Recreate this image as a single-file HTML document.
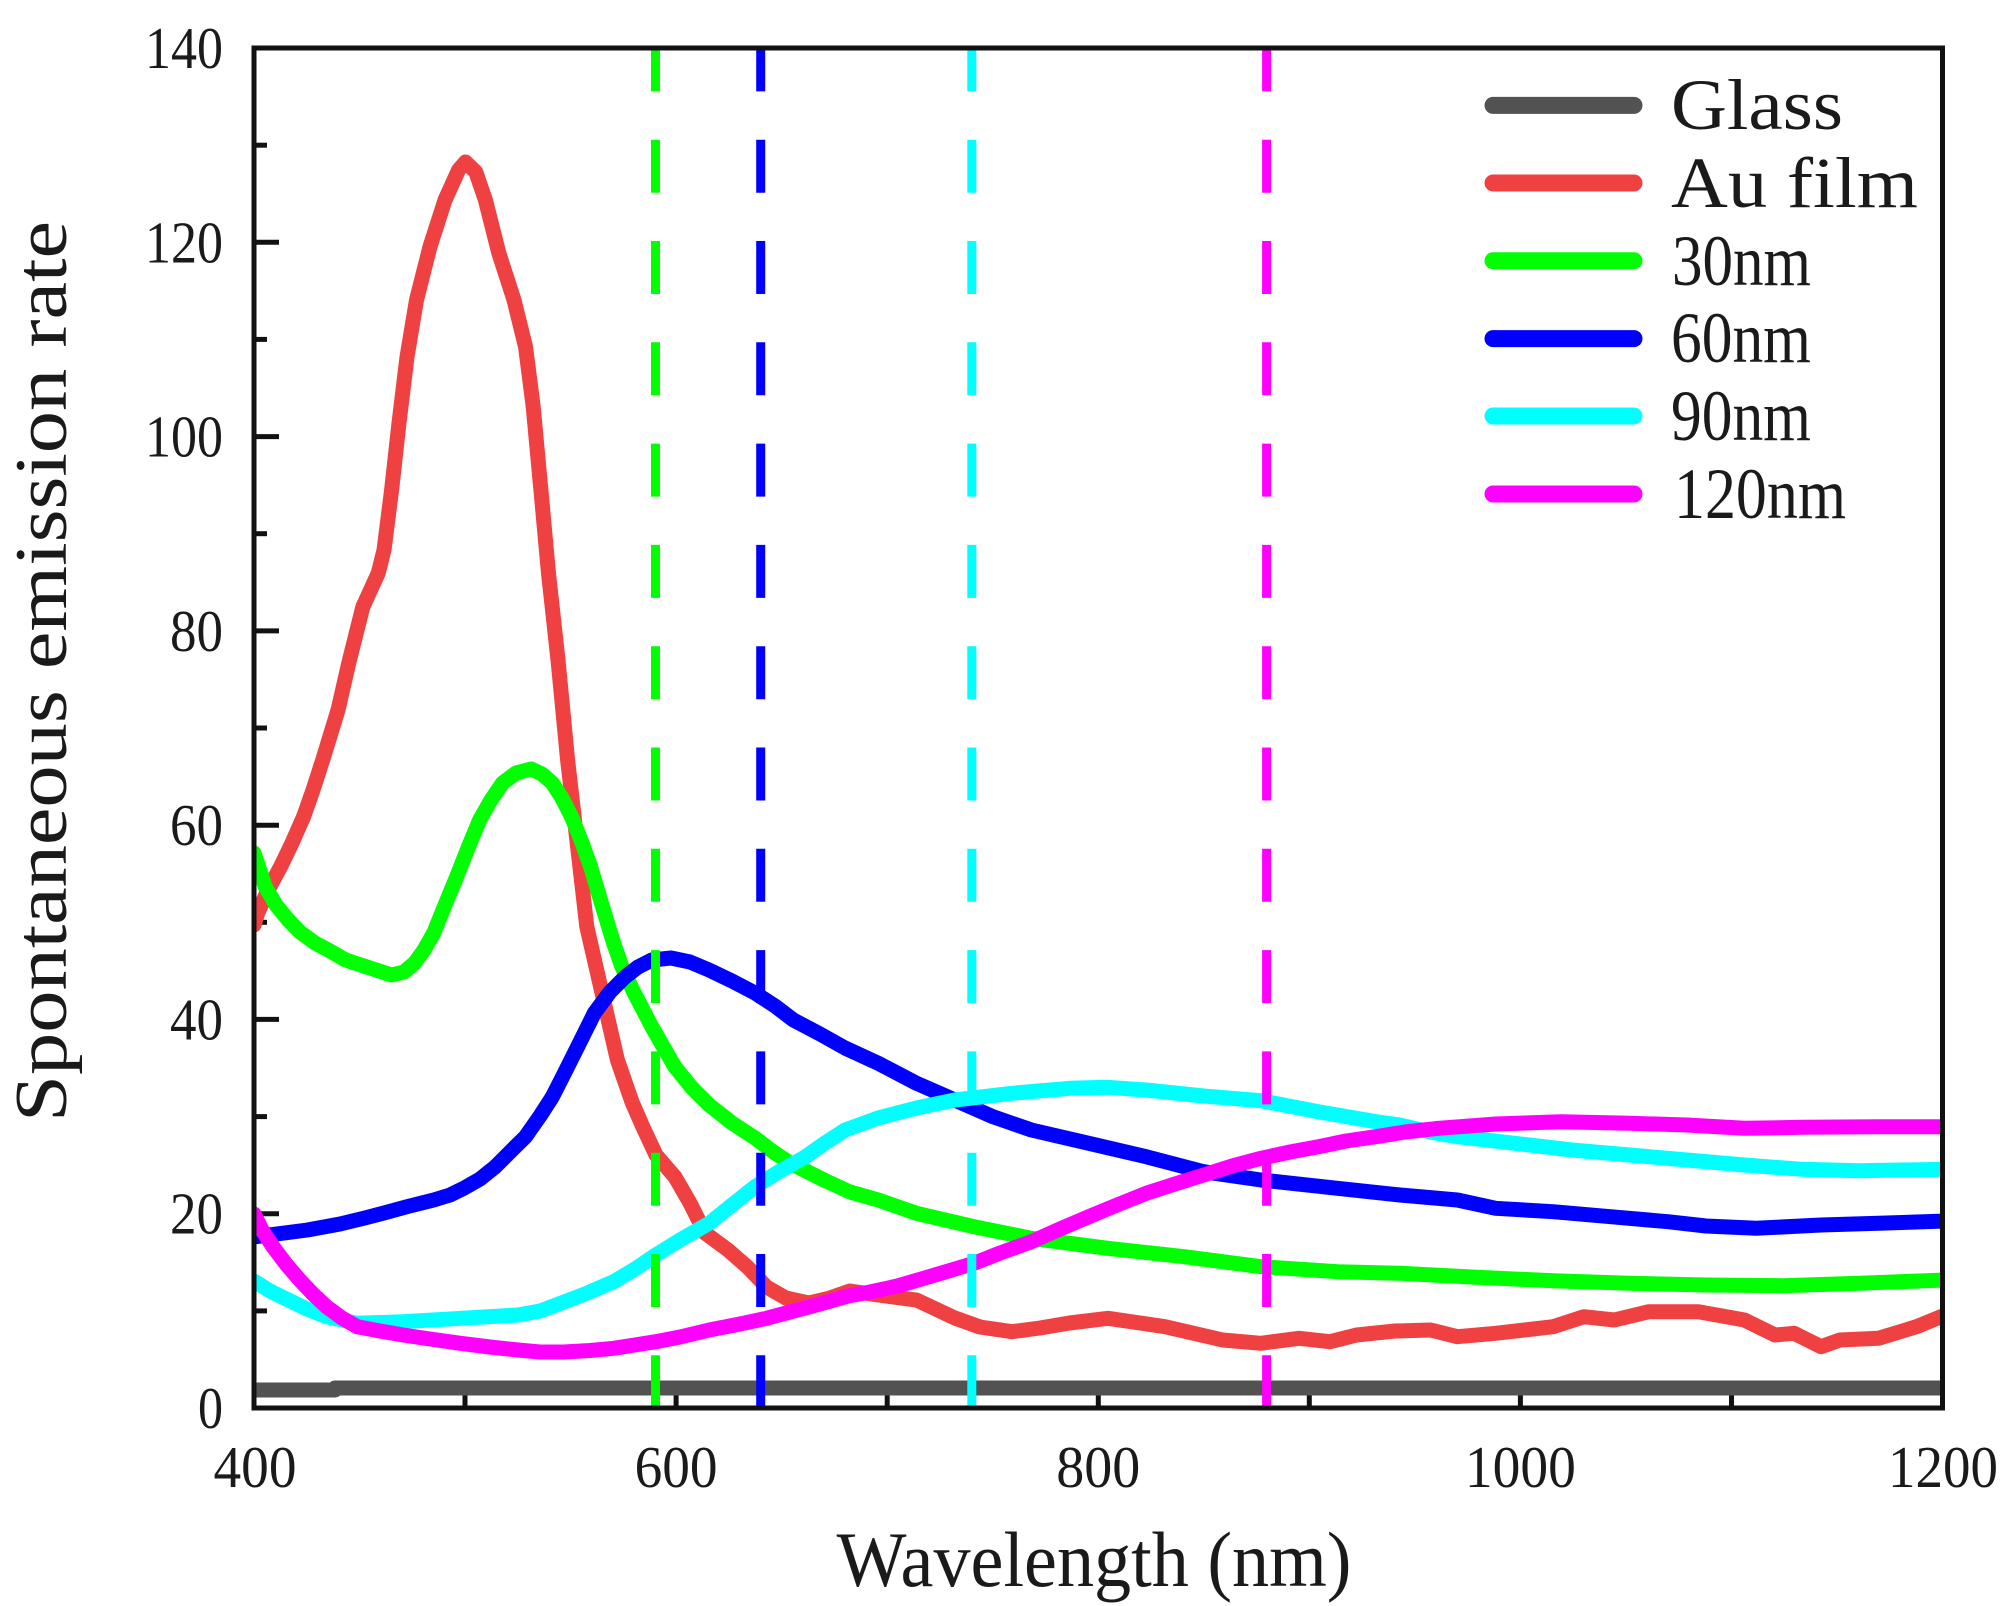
<!DOCTYPE html>
<html>
<head>
<meta charset="utf-8">
<style>
html,body{margin:0;padding:0;background:#fff;}
svg{display:block;}
text{font-family:"Liberation Serif","Noto Serif CJK SC",serif;fill:#1a1a1a;}
</style>
</head>
<body>
<svg width="2015" height="1606" viewBox="0 0 2015 1606" xmlns="http://www.w3.org/2000/svg">
<rect x="0" y="0" width="2015" height="1606" fill="#fff"/>
<defs>
<clipPath id="pc"><rect x="254" y="48" width="1688.5" height="1360"/></clipPath>
</defs>

<!-- ticks (under curves) -->
<g stroke="#111" stroke-width="5">
<!-- left major -->
<line x1="254" y1="1408" x2="279" y2="1408"/>
<line x1="254" y1="1213.7" x2="279" y2="1213.7"/>
<line x1="254" y1="1019.4" x2="279" y2="1019.4"/>
<line x1="254" y1="825.2" x2="279" y2="825.2"/>
<line x1="254" y1="630.9" x2="279" y2="630.9"/>
<line x1="254" y1="436.6" x2="279" y2="436.6"/>
<line x1="254" y1="242.3" x2="279" y2="242.3"/>
<!-- left minor -->
<line x1="254" y1="1310.9" x2="267" y2="1310.9"/>
<line x1="254" y1="1116.6" x2="267" y2="1116.6"/>
<line x1="254" y1="922.3" x2="267" y2="922.3"/>
<line x1="254" y1="728" x2="267" y2="728"/>
<line x1="254" y1="533.7" x2="267" y2="533.7"/>
<line x1="254" y1="339.4" x2="267" y2="339.4"/>
<line x1="254" y1="145.2" x2="267" y2="145.2"/>
<!-- bottom -->
<line x1="465" y1="1408" x2="465" y2="1395"/>
<line x1="676.1" y1="1408" x2="676.1" y2="1383"/>
<line x1="887.2" y1="1408" x2="887.2" y2="1395"/>
<line x1="1098.3" y1="1408" x2="1098.3" y2="1383"/>
<line x1="1309.3" y1="1408" x2="1309.3" y2="1395"/>
<line x1="1520.4" y1="1408" x2="1520.4" y2="1383"/>
<line x1="1731.5" y1="1408" x2="1731.5" y2="1395"/>
</g>

<g clip-path="url(#pc)" fill="none" stroke-width="15" stroke-linejoin="round" stroke-linecap="round">
<!-- Glass -->
<line x1="254" y1="1390" x2="335" y2="1390" stroke="#525252"/>
<line x1="335" y1="1388" x2="1945" y2="1388" stroke="#525252"/>
<!-- Au film -->
<polyline stroke="#EF4141" points="254,925 257.7,913 268,890 280.6,866.7 292,843 303.6,816.7 313,790 322.7,760 338,710 349,662 362.9,606.7 378.2,573.3 384,550 391.6,490 399,423 407,357 416.5,300 430,246.7 445,200 458.6,170 465.5,162 475.8,172 485.4,200 498.8,253 514,300 525.5,346.7 533.2,406.7 540.9,490 548.5,573.3 558,660 567.6,760 575.3,826.7 586.8,926.7 602,993 617.4,1060 632,1102 642,1125 656,1155 675,1177 690,1203 705,1233 728,1250 747.5,1267 766.6,1287 785.8,1298 808.7,1303 830,1298 850,1291 878,1295 916.5,1300 954.8,1318 980,1327 1012,1331.7 1040,1328 1069.6,1323 1108,1318.3 1165,1326.7 1222.7,1340 1261,1343.3 1299,1338.3 1330,1341.7 1356.6,1335 1395,1331 1430.6,1330 1457.4,1336.7 1495.7,1333.3 1553,1326.7 1583.7,1316.7 1614.3,1320 1648.8,1311.7 1698.5,1311.7 1744.4,1320 1775,1335 1794.2,1333.3 1821,1346.7 1840,1340 1878.4,1338.3 1916.6,1326.7 1945,1315"/>
<!-- 30nm -->
<polyline stroke="#00FF00" points="254,853 265.3,886.7 276,905 288.3,920 300,932 315,943 330,951 345.7,960 370,968 391.6,975 404,972 414.6,963 424,950 433.7,933 445,905 456.7,876.7 468,848 479.6,820 491,800 502.6,783 516,773 531.3,769 542,774 552.3,783 562,798 571.5,816.7 581,840 590.6,866.7 602,905 613.6,943 622,967 632.7,990 651.8,1026.7 674.8,1066.7 692,1088 709.2,1105 732,1123 755,1138 772,1151 790,1163 824,1180 850,1192 878.3,1200 916.5,1213.3 974,1226.7 1031.4,1238.3 1108,1248.3 1184.4,1256.7 1261,1266.7 1337.5,1271.7 1400,1273.3 1476.5,1277.3 1553,1280.7 1629.6,1283.3 1706,1285 1782.7,1285.7 1859.2,1283.3 1945,1280"/>
<!-- 60nm -->
<polyline stroke="#0000FF" points="254,1237 307.4,1230 340,1224 364.8,1218 384,1213 407,1206.7 433.7,1200 450,1195 464.3,1188 480,1179 495,1167 510,1152 525.5,1136.7 540,1116 552.3,1097 565,1072 580,1042 594.4,1013 610,992 625,977 638,967 651.8,960 671,958 690,962 709,970 732,981 755,993 775,1006 793.4,1020 820,1034 845,1048 878.3,1063.3 916.5,1083.3 954.8,1100 993,1116.7 1031.4,1130 1088.8,1143.3 1146.2,1156.7 1203.6,1171.7 1261,1180 1337.5,1188.3 1400,1195 1457.4,1200 1495.7,1208.3 1553,1211.7 1610.5,1216.7 1668,1221.7 1706,1226 1756,1228.3 1821,1225 1878.4,1223.3 1945,1221"/>
<!-- 90nm -->
<polyline stroke="#00FFFF" points="254,1281 270,1291 288.3,1300 307,1309 326.5,1316.7 357.2,1323.3 403,1321.7 460.5,1318.3 518,1315 540,1311 556,1305 585,1294 613.6,1281.7 635,1269 655.7,1255 680,1240 709.2,1223.3 732,1205 755,1186.7 780,1171 805,1157 825,1143 845,1130 878,1118 916.5,1108 954.8,1100 1012,1093.3 1069.6,1088.3 1107.9,1087.3 1146.2,1090 1203.6,1096 1261,1100.7 1318.4,1111.7 1375.8,1121.7 1400,1125 1430,1132 1457.4,1136.7 1514.8,1143.3 1572.2,1150 1629.6,1155 1687,1160 1744.4,1165 1801.8,1169.3 1859.2,1170.7 1945,1169.3"/>
<!-- 120nm -->
<polyline stroke="#FF00FF" points="254,1214 262,1230 273,1246.7 286,1264 299.7,1280 313,1294 326.5,1306.7 342,1318 357.2,1326.7 380,1331 403,1335 430,1339 460.5,1343.3 490,1347 518,1350 540,1352 563.8,1352 590,1350.5 613.6,1348.3 655.7,1341.7 680,1337 709.2,1330 740,1324 766.6,1318.3 790,1312 816.4,1305 848,1296 870,1292 897.4,1286 935,1275 974,1263.3 1000,1253 1031.4,1241.7 1060,1229 1088.8,1216.7 1117,1205 1146.2,1193.3 1175,1184 1203.6,1175 1232,1166 1261,1158.3 1290,1152 1318.4,1146.7 1346,1141 1375.8,1136.7 1405,1132 1438.3,1128.3 1495.7,1124 1560.7,1121.7 1629.6,1123.3 1687,1125 1744.4,1128.3 1801.8,1127.3 1878.4,1126.7 1945,1126.7"/>
</g>

<!-- dashed vertical markers -->
<g stroke-width="9" stroke-dasharray="53 48.3" stroke-dashoffset="9.6" fill="none">
<line x1="655.5" y1="48" x2="655.5" y2="1408" stroke="#00FF00"/>
<line x1="760.7" y1="48" x2="760.7" y2="1408" stroke="#0000FF"/>
<line x1="971.8" y1="48" x2="971.8" y2="1408" stroke="#00FFFF"/>
<line x1="1266.6" y1="48" x2="1266.6" y2="1408" stroke="#FF00FF"/>
</g>

<!-- frame -->
<rect x="254" y="48" width="1688.5" height="1360" fill="none" stroke="#111" stroke-width="5"/>

<!-- y tick labels -->
<g font-size="59" text-anchor="end">
<text x="223" y="1428" textLength="25" lengthAdjust="spacingAndGlyphs">0</text>
<text x="223" y="1233.7" textLength="53" lengthAdjust="spacingAndGlyphs">20</text>
<text x="223" y="1039.4" textLength="53" lengthAdjust="spacingAndGlyphs">40</text>
<text x="223" y="845.2" textLength="53" lengthAdjust="spacingAndGlyphs">60</text>
<text x="223" y="650.9" textLength="53" lengthAdjust="spacingAndGlyphs">80</text>
<text x="223" y="456.6" textLength="78" lengthAdjust="spacingAndGlyphs">100</text>
<text x="223" y="262.3" textLength="78" lengthAdjust="spacingAndGlyphs">120</text>
<text x="223" y="68" textLength="78" lengthAdjust="spacingAndGlyphs">140</text>
</g>

<!-- x tick labels -->
<g font-size="59" text-anchor="middle">
<text x="255" y="1487" textLength="83" lengthAdjust="spacingAndGlyphs">400</text>
<text x="676.1" y="1487" textLength="83" lengthAdjust="spacingAndGlyphs">600</text>
<text x="1098.3" y="1487" textLength="84" lengthAdjust="spacingAndGlyphs">800</text>
<text x="1520.4" y="1487" textLength="111" lengthAdjust="spacingAndGlyphs">1000</text>
<text x="1943" y="1487" textLength="110" lengthAdjust="spacingAndGlyphs">1200</text>
</g>

<!-- axis titles -->
<text x="1094" y="1586" font-size="78" text-anchor="middle" textLength="515" lengthAdjust="spacingAndGlyphs">Wavelength (nm)</text>
<text transform="translate(66,671.5) rotate(-90)" x="0" y="0" font-size="74" text-anchor="middle" textLength="901" lengthAdjust="spacingAndGlyphs">Spontaneous emission rate</text>

<!-- legend -->
<g stroke-width="17" stroke-linecap="round">
<line x1="1493" y1="105.4" x2="1634" y2="105.4" stroke="#525252"/>
<line x1="1493" y1="183" x2="1634" y2="183" stroke="#EF4141"/>
<line x1="1493" y1="260.7" x2="1634" y2="260.7" stroke="#00FF00"/>
<line x1="1493" y1="338.6" x2="1634" y2="338.6" stroke="#0000FF"/>
<line x1="1493" y1="416" x2="1634" y2="416" stroke="#00FFFF"/>
<line x1="1493" y1="494" x2="1634" y2="494" stroke="#FF00FF"/>
</g>
<g font-size="72">
<text x="1671" y="129" textLength="172" lengthAdjust="spacingAndGlyphs">Glass</text>
<text x="1671" y="207" textLength="247" lengthAdjust="spacingAndGlyphs">Au film</text>
<text x="1672" y="285" textLength="139" lengthAdjust="spacingAndGlyphs">30nm</text>
<text x="1671" y="362" textLength="140" lengthAdjust="spacingAndGlyphs">60nm</text>
<text x="1671" y="440" textLength="140" lengthAdjust="spacingAndGlyphs">90nm</text>
<text x="1674" y="518" textLength="172" lengthAdjust="spacingAndGlyphs">120nm</text>
</g>
</svg>
</body>
</html>
